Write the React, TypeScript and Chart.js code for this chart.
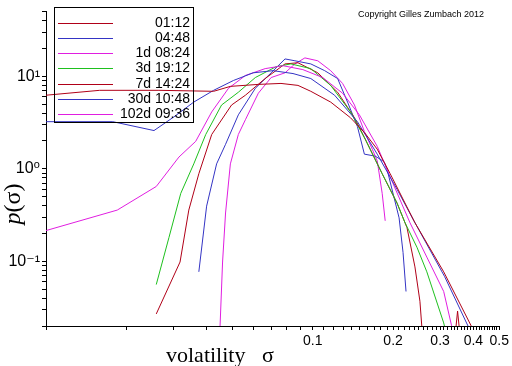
import React, { useEffect, useRef } from 'react';
import { Chart, registerables } from 'chart.js';

Chart.register(...registerables);

const SERIES_LABELS = ['01:12', '04:48', '1d 08:24', '3d 19:12', '7d 14:24', '30d 10:48', '102d 09:36'];
const SERIES_COLORS = ['#b00018', '#3434c4', '#e01ee0', '#1ec01e', '#b00018', '#3434c4', '#e01ee0'];

const s1Sigma = [0.0100, 0.0159, 0.0265, 0.0425, 0.0491, 0.0625, 0.0760, 0.0880, 0.0983, 0.1167, 0.1385, 0.1561, 0.1744, 0.1950, 0.2415, 0.3095, 0.4036];
const s1P = [6.24, 7.05, 7.05, 6.88, 7.78, 8.17, 8.37, 7.97, 6.88, 5.26, 3.56, 2.47, 1.63, 0.885, 0.261, 0.0770, 0.0171];

const s2Sigma = [0.0100, 0.0178, 0.0254, 0.0302, 0.0358, 0.0425, 0.0504, 0.0598, 0.0710, 0.0843, 0.0983, 0.1207, 0.1470, 0.1744, 0.2070, 0.2394, 0.3122, 0.3968];
const s2P = [3.23, 3.23, 2.59, 3.65, 5.26, 7.05, 9.00, 10.9, 11.5, 10.7, 9.45, 6.24, 3.23, 1.44, 0.599, 0.274, 0.0682, 0.0158];

const s3Sigma = [0.0100, 0.0185, 0.0259, 0.0315, 0.0364, 0.0418, 0.0483, 0.0559, 0.0663, 0.0774, 0.0918, 0.1089, 0.1293, 0.1495, 0.1744, 0.1984, 0.2314, 0.2676, 0.3095, 0.3314, 0.346];
const s3P = [0.215, 0.358, 0.644, 1.34, 1.98, 4.12, 7.41, 10.2, 12.1, 13.0, 11.8, 9.69, 6.56, 3.83, 1.75, 0.728, 0.261, 0.111, 0.0472, 0.0201, 0.0139];

const s4Sigma = [0.0259, 0.0289, 0.0320, 0.0358, 0.0397, 0.0455, 0.0526, 0.0609, 0.0729, 0.0828, 0.0983, 0.1167, 0.1385, 0.1574, 0.1820, 0.2070, 0.2217, 0.2457, 0.2676, 0.3095, 0.3176];
const s4P = [0.0561, 0.181, 0.543, 1.13, 2.35, 4.89, 6.72, 9.69, 12.7, 13.6, 12.1, 7.97, 4.12, 2.08, 0.885, 0.425, 0.261, 0.142, 0.0770, 0.0216, 0.0158];

const s5Sigma = [0.0259, 0.0318, 0.0343, 0.0374, 0.0418, 0.0496, 0.0559, 0.0663, 0.0787, 0.0880, 0.1044, 0.1239, 0.1433, 0.1561, 0.1820, 0.2070, 0.2255, 0.2415, 0.2521, 0.2586, 0.3401, 0.3489, 0.3580];
const s5P = [0.0270, 0.0983, 0.358, 0.885, 2.35, 4.89, 6.24, 9.45, 13.6, 14.0, 10.9, 6.72, 3.56, 2.18, 0.885, 0.425, 0.231, 0.0870, 0.0370, 0.0139, 0.0139, 0.0290, 0.0139];

const s6Sigma = [0.0374, 0.0400, 0.0436, 0.0471, 0.0526, 0.0609, 0.0698, 0.0787, 0.0857, 0.0983, 0.1108, 0.1239, 0.1350, 0.1470, 0.1561, 0.1715, 0.1852, 0.1900, 0.2106, 0.2179, 0.2236];
const s6P = [0.0770, 0.395, 1.13, 1.84, 3.83, 7.41, 10.9, 15.4, 14.7, 13.6, 11.5, 9.45, 5.26, 2.86, 1.44, 1.37, 1.19, 0.976, 0.295, 0.125, 0.0472];

const s7Sigma = [0.0447, 0.0459, 0.0471, 0.0491, 0.0526, 0.0559, 0.0625, 0.0698, 0.0787, 0.0857, 0.0934, 0.1044, 0.1167, 0.1293, 0.1433, 0.1561, 0.1671, 0.1744, 0.1820, 0.1868];
const s7P = [0.0139, 0.0983, 0.333, 1.13, 2.35, 3.39, 6.56, 9.69, 10.9, 13.6, 15.8, 14.7, 11.5, 8.37, 4.89, 2.53, 1.63, 1.22, 0.543, 0.274];

const SIGMAS = [s1Sigma, s2Sigma, s3Sigma, s4Sigma, s5Sigma, s6Sigma, s7Sigma];
const PS = [s1P, s2P, s3P, s4P, s5P, s6P, s7P];

const X_MIN = 0.01;
const X_MAX = 0.5;
const Y_MIN = 0.02;
const Y_MAX = 50;
const X_TICK_LABELS = ['0.1', '0.2', '0.3', '0.4', '0.5'];
const Y_TICK_LABELS: [number, string][] = [[10, '10¹'], [1, '10⁰'], [0.1, '10⁻¹']];

const X_TICKS: number[] = [];
for (let k = 1; k <= 9; k++) X_TICKS.push(+(k * 0.01).toFixed(3));
for (let k = 10; k <= 50; k++) X_TICKS.push(+(k * 0.01).toFixed(3));
const Y_TICKS: number[] = [];
[0.01, 0.1, 1, 10].forEach((d) => {
  for (let k = 1; k <= 9; k++) {
    const v = +(k * d).toPrecision(3);
    if (v >= Y_MIN - 1e-9 && v <= Y_MAX + 1e-9) Y_TICKS.push(v);
  }
});

const COPYRIGHT = 'Copyright Gilles Zumbach 2012';
const X_TITLE = 'volatility';
const SIGMA = 'σ';

const overlay = {
  id: 'overlay',
  afterDraw(chart: any) {
    const ctx = chart.ctx as CanvasRenderingContext2D;
    ctx.save();
    // legend box
    ctx.strokeStyle = '#000';
    ctx.lineWidth = 1;
    ctx.strokeRect(54.5, 7.5, 139, 115);
    chart.data.datasets.forEach((ds: any, i: number) => {
      const y = Math.round(22.5 + i * 15.3) + 0.5;
      ctx.strokeStyle = ds.borderColor;
      ctx.beginPath();
      ctx.moveTo(58, y);
      ctx.lineTo(113, y);
      ctx.stroke();
      ctx.fillStyle = '#000';
      ctx.font = '14px "Liberation Sans", Arial, sans-serif';
      ctx.textAlign = 'right';
      ctx.textBaseline = 'middle';
      ctx.fillText(ds.label, 190, y);
    });
    // copyright
    ctx.font = '9px "Liberation Sans", Arial, sans-serif';
    ctx.textAlign = 'left';
    ctx.textBaseline = 'middle';
    ctx.fillStyle = '#000';
    ctx.fillText(COPYRIGHT, 358, 15);
    // x title
    ctx.font = '22px "Liberation Serif", serif';
    ctx.textBaseline = 'alphabetic';
    ctx.fillText(X_TITLE, 166, 362);
    ctx.fillText(SIGMA, 262, 362);
    // y title
    ctx.translate(20, 204);
    ctx.rotate(-Math.PI / 2);
    ctx.font = 'italic 24px "Liberation Serif", serif';
    const pw = ctx.measureText('p').width;
    ctx.font = '24px "Liberation Serif", serif';
    const rw = ctx.measureText('(' + SIGMA + ')').width;
    const start = -(pw + rw) / 2;
    ctx.textAlign = 'left';
    ctx.font = 'italic 24px "Liberation Serif", serif';
    ctx.fillText('p', start, 0);
    ctx.font = '24px "Liberation Serif", serif';
    ctx.fillText('(' + SIGMA + ')', start + pw, 0);
    ctx.restore();
  },
};

export default function App() {
  const ref = useRef<HTMLCanvasElement>(null);
  useEffect(() => {
    const datasets = SERIES_LABELS.map((label, i) => ({
      label,
      data: SIGMAS[i].map((x, j) => ({ x, y: PS[i][j] })),
      borderColor: SERIES_COLORS[i],
      backgroundColor: SERIES_COLORS[i],
      borderWidth: 1,
      pointRadius: 0,
      tension: 0,
      fill: false,
    }));
    const chart = new Chart(ref.current as HTMLCanvasElement, {
      type: 'line',
      data: { datasets },
      options: {
        animation: false,
        responsive: false,
        events: [],
        layout: { padding: { top: 5, right: 9, left: 0, bottom: 0 } },
        plugins: { legend: { display: false }, tooltip: { enabled: false }, title: { display: false } },
        scales: {
          x: {
            type: 'logarithmic',
            min: X_MIN,
            max: X_MAX,
            afterBuildTicks: (s: any) => {
              s.ticks = X_TICKS.map((v) => ({ value: v }));
            },
            afterFit: (s: any) => {
              s.height = 40;
            },
            grid: { drawOnChartArea: false, drawTicks: true, tickLength: 4, color: '#000' },
            border: { display: true, color: '#000', width: 1 },
            ticks: {
              autoSkip: false,
              maxRotation: 0,
              minRotation: 0,
              padding: 3,
              color: '#000',
              font: { family: '"Liberation Sans", Arial, sans-serif', size: 14 },
              callback: (v: any) => {
                const f = X_TICK_LABELS.find((l) => Math.abs(parseFloat(l) - Number(v)) < 1e-9);
                return f ?? '';
              },
            },
          },
          y: {
            type: 'logarithmic',
            min: Y_MIN,
            max: Y_MAX,
            afterBuildTicks: (s: any) => {
              s.ticks = Y_TICKS.map((v) => ({ value: v }));
            },
            afterFit: (s: any) => {
              s.width = 46;
            },
            grid: { drawOnChartArea: false, drawTicks: true, tickLength: 4, color: '#000' },
            border: { display: true, color: '#000', width: 1 },
            ticks: {
              autoSkip: false,
              padding: 2,
              color: '#000',
              font: { family: '"Liberation Sans", "DejaVu Sans", Arial, sans-serif', size: 16 },
              callback: (v: any) => {
                const f = Y_TICK_LABELS.find(([val]) => Math.abs(val - Number(v)) < 1e-9);
                return f ? f[1] : '';
              },
            },
          },
        },
      },
      plugins: [overlay],
    } as any);
    return () => chart.destroy();
  }, []);
  return (
    <div style={{ position: 'fixed', left: 0, top: 0, width: 512, height: 366, background: '#fff' }}>
      <canvas ref={ref} width={512} height={366} style={{ display: 'block', width: 512, height: 366 }} />
    </div>
  );
}
